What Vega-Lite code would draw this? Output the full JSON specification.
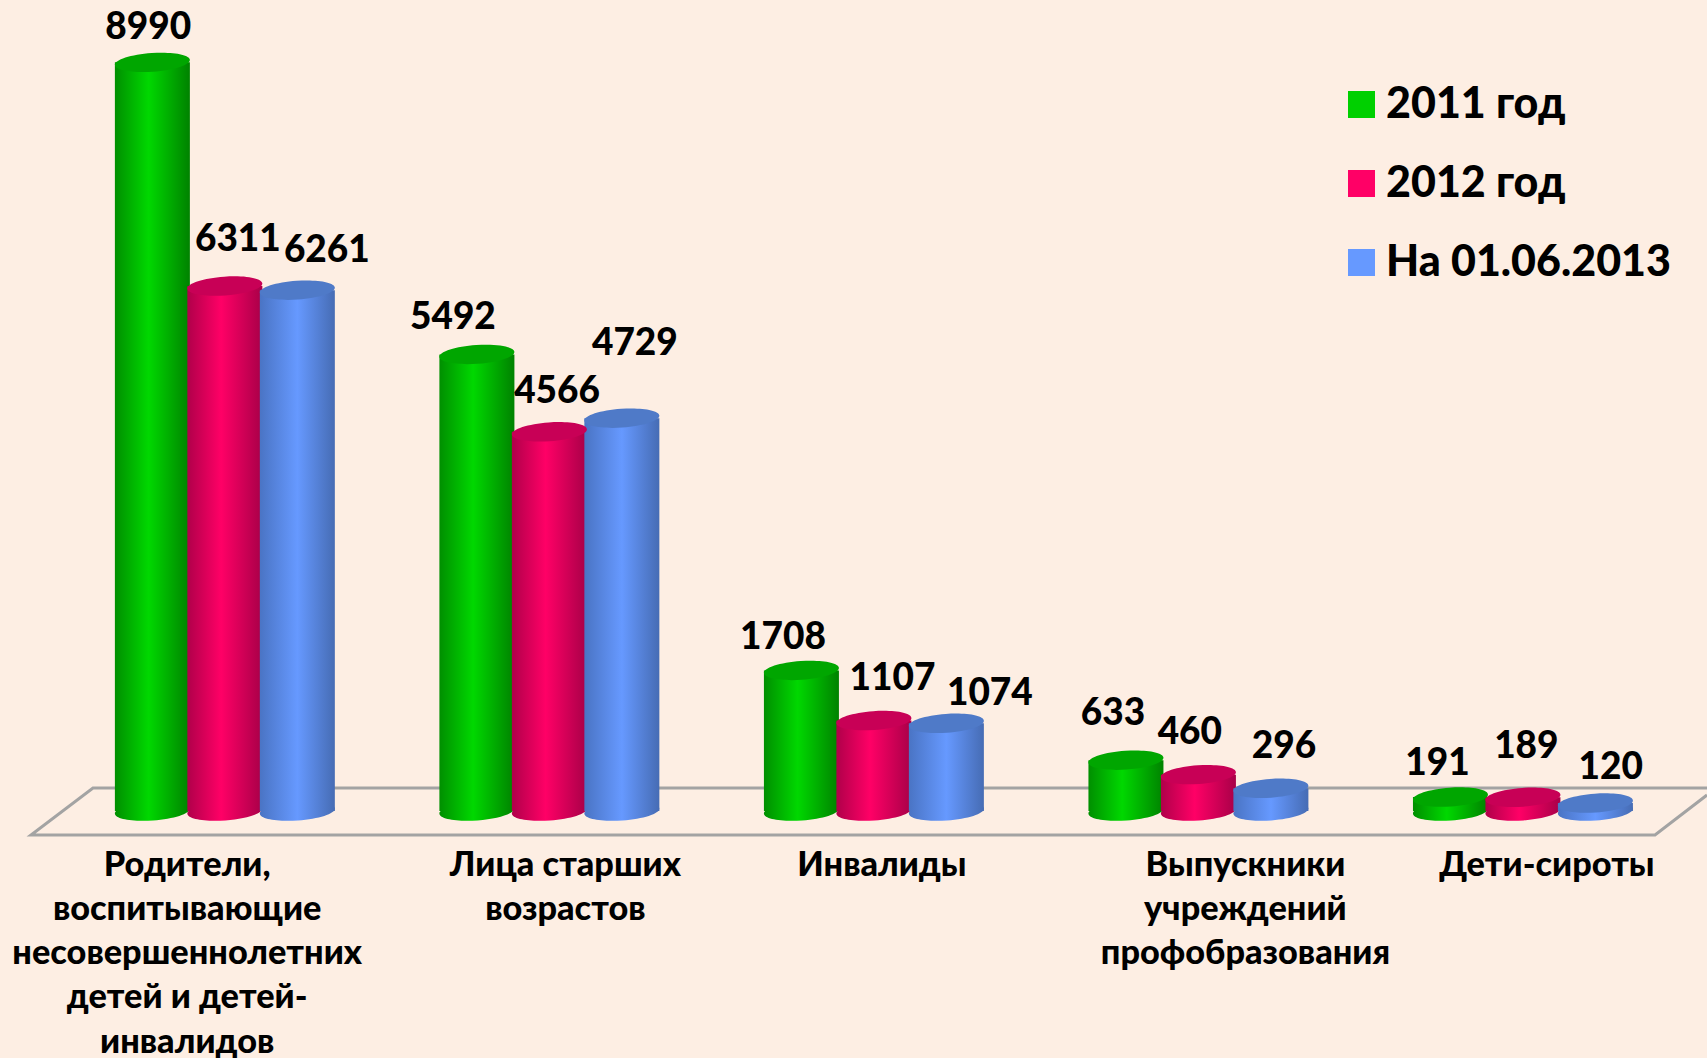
{
"$schema":"https://vega.github.io/schema/vega-lite/v6.json",
"width":1707,"height":835,"autosize":"none",
"padding":{"left":0,"top":0,"right":0,"bottom":223},
"background":"#FDEEE3",
"config":{"view":{"stroke":null}},
"datasets":{
"bars":[
{"category":"Родители","series":"2011 год","value":8990},
{"category":"Родители","series":"2012 год","value":6311},
{"category":"Родители","series":"На 01.06.2013","value":6261},
{"category":"Лица старших возрастов","series":"2011 год","value":5492},
{"category":"Лица старших возрастов","series":"2012 год","value":4566},
{"category":"Лица старших возрастов","series":"На 01.06.2013","value":4729},
{"category":"Инвалиды","series":"2011 год","value":1708},
{"category":"Инвалиды","series":"2012 год","value":1107},
{"category":"Инвалиды","series":"На 01.06.2013","value":1074},
{"category":"Выпускники","series":"2011 год","value":633},
{"category":"Выпускники","series":"2012 год","value":460},
{"category":"Выпускники","series":"На 01.06.2013","value":296},
{"category":"Дети-сироты","series":"2011 год","value":191},
{"category":"Дети-сироты","series":"2012 год","value":189},
{"category":"Дети-сироты","series":"На 01.06.2013","value":120}
],
"floor":[
{"p":1,"fx":1707,"fy":299},
{"p":2,"fx":93,"fy":299},
{"p":3,"fx":31,"fy":-263},
{"p":4,"fx":1655,"fy":-263},
{"p":5,"fx":1707,"fy":216}
]},
"layer":[
{"data":{"name":"floor"},
"mark":{"type":"line","color":"#A3A3A3","strokeWidth":3,"clip":false},
"encoding":{
"x":{"field":"fx","type":"quantitative","scale":{"domain":[0,1707],"nice":false,"zero":false},"axis":null},
"y":{"field":"fy","type":"quantitative","scale":{"domain":[-263,9737],"nice":false,"zero":false},"axis":null},
"order":{"field":"p","type":"ordinal"}
}},
{"data":{"name":"bars"},
"encoding":{
"x":{"field":"category","type":"nominal","sort":null,
"scale":{"type":"band","domain":["Родители","Лица старших возрастов","Инвалиды","Выпускники","Дети-сироты"],"range":[62.6,1685.2],"paddingInner":0.33,"paddingOuter":0.165},
"axis":{"title":null,"domain":false,"ticks":false,"labelAngle":0,"labelFont":"Lato","labelFontWeight":900,"labelFontSize":34.3,"labelColor":"#000000","labelPadding":13,"labelLimit":0,"labelOverlap":false,"labelBaseline":"top","labelAlign":"center","labelLineHeight":44.3,
"labelExpr":"{'Родители':['Родители,','воспитывающие','несовершеннолетних','детей и детей-','инвалидов'],'Лица старших возрастов':['Лица старших','возрастов'],'Инвалиды':['Инвалиды'],'Выпускники':['Выпускники','учреждений','профобразования'],'Дети-сироты':['Дети-сироты']}[datum.value]",
"labelOffset":{"condition":[
{"test":"datum.value=='Родители'","value":-37.7},
{"test":"datum.value=='Лица старших возрастов'","value":16},
{"test":"datum.value=='Инвалиды'","value":8},
{"test":"datum.value=='Выпускники'","value":47}
],"value":24}}},
"xOffset":{"field":"series","type":"nominal","sort":null,"scale":{"domain":["2011 год","2012 год","На 01.06.2013"]}},
"y":{"field":"value","type":"quantitative","stack":null,"title":null,"axis":null,"scale":{"domain":[-263,9737],"nice":false,"zero":false}}
},
"layer":[
{"mark":{"type":"point","filled":true,"opacity":0},
"encoding":{"color":{"field":"series","type":"nominal","sort":null,"scale":{"domain":["2011 год","2012 год","На 01.06.2013"],"range":["#00D000","#FF0066","#6699FF"]},
"legend":{"title":null,"orient":"none","legendX":1340,"legendY":83,"symbolType":"square","symbolSize":729,"symbolOpacity":1,"symbolStrokeWidth":0,"labelFont":"Lato","labelFontWeight":900,"labelFontSize":43,"labelColor":"#000000","labelOffset":3,"rowPadding":35,"labelLimit":0}}}},
{"mark":{"type":"point","filled":true,"opacity":1,"size":5625,"shape":"M-1,0.07A1,0.25 -4 1,0 1,-0.07A1,0.25 -4 1,0 -1,0.07Z"},
"encoding":{"y":{"datum":24,"type":"quantitative"},
"color":{"condition":[
{"test":"datum.series=='2011 год'","value":{"gradient":"linear","x1":0,"x2":1,"y1":0,"y2":0,"stops":[{"offset":0,"color":"#008F00"},{"offset":0.45,"color":"#00D800"},{"offset":1,"color":"#008200"}]}},
{"test":"datum.series=='2012 год'","value":{"gradient":"linear","x1":0,"x2":1,"y1":0,"y2":0,"stops":[{"offset":0,"color":"#B0004A"},{"offset":0.45,"color":"#FF0066"},{"offset":1,"color":"#A80048"}]}}
],"value":{"gradient":"linear","x1":0,"x2":1,"y1":0,"y2":0,"stops":[{"offset":0,"color":"#4A74C4"},{"offset":0.5,"color":"#6699FF"},{"offset":1,"color":"#466CB4"}]}}}},
{"mark":{"type":"bar","width":75},
"encoding":{"y2":{"datum":24},
"color":{"condition":[
{"test":"datum.series=='2011 год'","value":{"gradient":"linear","x1":0,"x2":1,"y1":0,"y2":0,"stops":[{"offset":0,"color":"#008F00"},{"offset":0.45,"color":"#00D800"},{"offset":1,"color":"#008200"}]}},
{"test":"datum.series=='2012 год'","value":{"gradient":"linear","x1":0,"x2":1,"y1":0,"y2":0,"stops":[{"offset":0,"color":"#B0004A"},{"offset":0.45,"color":"#FF0066"},{"offset":1,"color":"#A80048"}]}}
],"value":{"gradient":"linear","x1":0,"x2":1,"y1":0,"y2":0,"stops":[{"offset":0,"color":"#4A74C4"},{"offset":0.5,"color":"#6699FF"},{"offset":1,"color":"#466CB4"}]}}}},
{"mark":{"type":"point","filled":true,"opacity":1,"size":5625,"shape":"M-1,0.07A1,0.25 -4 1,1 1,-0.07A1,0.25 -4 1,1 -1,0.07Z"},
"encoding":{"color":{"condition":[
{"test":"datum.series=='2011 год'","value":"#00A600"},
{"test":"datum.series=='2012 год'","value":"#C80056"}
],"value":"#4F7AC8"}}},
{"mark":{"type":"text","font":"Lato","fontWeight":900,"fontSize":37,"color":"#000000","baseline":"middle",
"dx":{"expr":"{'8990':-4.1,'6311':13,'6261':29.5,'5492':-24,'4566':7.7,'4729':13,'1708':-18.4,'1107':18.6,'1074':43.5,'633':-13,'460':-8.6,'296':13,'191':-13,'189':3.4,'120':15.3}[datum.value]"},
"dy":{"expr":"{'8990':-34,'6311':-46.5,'6261':-39.6,'5492':-36.5,'4566':-39.8,'4729':-74,'1708':-32.4,'1107':-41.2,'1074':-29.8,'633':-46,'460':-41.8,'296':-41.4,'191':-32.6,'189':-50.3,'120':-35.3}[datum.value]"}},
"encoding":{"text":{"field":"value","type":"quantitative","format":"d"}}}
]}
],
"resolve":{"scale":{"x":"independent"},"axis":{"x":"independent"}}
}
